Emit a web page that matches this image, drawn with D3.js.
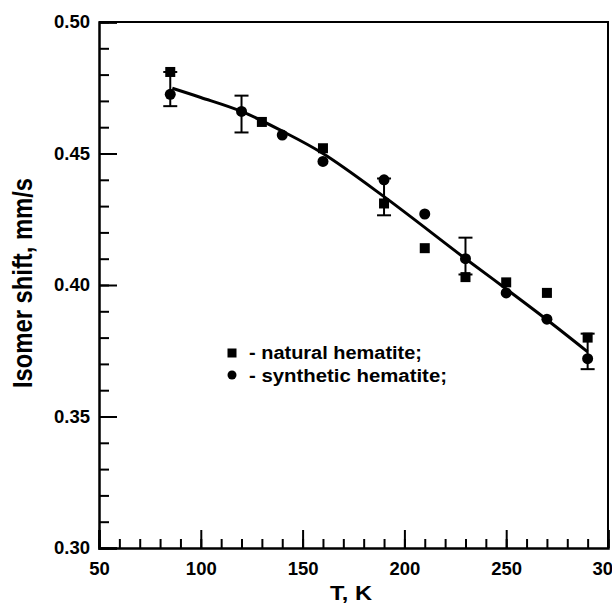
<!DOCTYPE html>
<html>
<head>
<meta charset="utf-8">
<script src="https://cdn.jsdelivr.net/npm/d3@7"></script>
<style>
  html, body { margin: 0; padding: 0; background: #fff; }
  svg { display: block; font-family: 'Liberation Sans', Arial, sans-serif; font-weight: bold; }
</style>
</head>
<body>
<div id="chart"></div>
<script>
// natural hematite (squares)
const naturalT = [85, 130, 160, 190, 210, 230, 250, 270, 290];
const naturalIS = [0.481, 0.462, 0.452, 0.431, 0.414, 0.403, 0.401, 0.397, 0.380];

// synthetic hematite (circles)
const syntheticT = [85, 120, 140, 160, 190, 210, 230, 250, 270, 290];
const syntheticIS = [0.4725, 0.466, 0.457, 0.447, 0.440, 0.427, 0.410, 0.397, 0.387, 0.372];

// error bars
const errT = [85, 120, 190, 230, 290];
const errLow = [0.468, 0.458, 0.4265, 0.404, 0.368];
const errHigh = [0.481, 0.472, 0.4405, 0.418, 0.3815];

// fitted curve
const fitT = [86, 100, 120, 140, 160, 190, 230, 250, 270, 290];
const fitIS = [0.4748, 0.4713, 0.4660, 0.4585, 0.4500, 0.4336, 0.4100, 0.3985, 0.3868, 0.3746];

const xMajor = [50, 100, 150, 200, 250, 300];
const xLabels = ['50', '100', '150', '200', '250', '30'];
const yMajor = [0.30, 0.35, 0.40, 0.45, 0.50];

const legendLabels = ['- natural hematite;', '- synthetic hematite;'];

const width = 612, height = 603;
const mLeft = 99, mRight = 608, mTop = 22, mBottom = 548;

const svg = d3.select('#chart')
  .append('svg')
    .attr('width', width)
    .attr('height', height);

const x = d3.scaleLinear().domain([50, 300]).range([mLeft, mRight]);
const y = d3.scaleLinear().domain([0.30, 0.50]).range([mBottom, mTop]);

// frame (top and right)
svg.append('path')
  .attr('d', `M${mLeft},${mTop}H${mRight}V${mBottom}`)
  .attr('fill', 'none')
  .attr('stroke', '#000')
  .attr('stroke-width', 2);

// minor ticks
svg.append('g')
  .attr('transform', `translate(${mLeft},0)`)
  .call(d3.axisLeft(y).tickValues(d3.range(30, 51).map(v => v / 100)).tickSize(-10).tickFormat(''))
  .call(g => g.select('.domain').remove())
  .call(g => g.selectAll('line').attr('stroke-width', 2));
svg.append('g')
  .attr('transform', `translate(0,${mBottom})`)
  .call(d3.axisBottom(x).tickValues(d3.range(50, 301, 10)).tickSize(-9).tickFormat(''))
  .call(g => g.select('.domain').remove())
  .call(g => g.selectAll('line').attr('stroke-width', 2));

// major ticks + labels
const yAxis = svg.append('g')
  .attr('transform', `translate(${mLeft},0)`)
  .call(d3.axisLeft(y).tickValues(yMajor).tickSize(-18).tickPadding(9).tickFormat(d3.format('.2f')));
const xAxis = svg.append('g')
  .attr('transform', `translate(0,${mBottom})`)
  .call(d3.axisBottom(x).tickValues(xMajor).tickSize(-18).tickPadding(14)
    .tickFormat((d, i) => xLabels[i]));

[xAxis, yAxis].forEach(g => {
  g.select('.domain').attr('stroke-width', 2.5);
  g.selectAll('line').attr('stroke-width', 2);
  g.selectAll('text')
    .attr('font-size', 18.5)
    .attr('font-family', "'Liberation Sans', Arial, sans-serif")
    .attr('font-weight', 'bold')
    .attr('fill', '#000');
});
// last label is cut by the page edge, as in the source
xAxis.selectAll('.tick:last-of-type text')
  .attr('text-anchor', 'start')
  .attr('dx', -16);

// axis titles
svg.append('text')
  .attr('x', 351)
  .attr('y', 600)
  .attr('text-anchor', 'middle')
  .attr('font-size', 20)
  .attr('textLength', 42)
  .attr('lengthAdjust', 'spacingAndGlyphs')
  .text('T, K');

svg.append('text')
  .attr('transform', 'translate(32,283) rotate(-90)')
  .attr('text-anchor', 'middle')
  .attr('font-size', 27)
  .attr('textLength', 210)
  .attr('lengthAdjust', 'spacingAndGlyphs')
  .text('Isomer shift, mm/s');

// fitted line
const fitData = fitT.map((t, i) => ({ t, v: fitIS[i] }));
svg.append('path')
  .datum(fitData)
  .attr('fill', 'none')
  .attr('stroke', '#000')
  .attr('stroke-width', 3)
  .attr('d', d3.line().curve(d3.curveCatmullRom.alpha(0.5)).x(d => x(d.t)).y(d => y(d.v)));

// error bars
const errData = errT.map((t, i) => ({ t, lo: errLow[i], hi: errHigh[i] }));
const eb = svg.append('g').attr('stroke', '#000').attr('stroke-width', 2);
eb.selectAll('line.v').data(errData).join('line')
  .attr('class', 'v')
  .attr('x1', d => x(d.t)).attr('x2', d => x(d.t))
  .attr('y1', d => y(d.lo)).attr('y2', d => y(d.hi));
eb.selectAll('line.lo').data(errData).join('line')
  .attr('class', 'lo')
  .attr('x1', d => x(d.t) - 7).attr('x2', d => x(d.t) + 7)
  .attr('y1', d => y(d.lo)).attr('y2', d => y(d.lo));
eb.selectAll('line.hi').data(errData).join('line')
  .attr('class', 'hi')
  .attr('x1', d => x(d.t) - 7).attr('x2', d => x(d.t) + 7)
  .attr('y1', d => y(d.hi)).attr('y2', d => y(d.hi));

// natural: squares
const sq = 10;
svg.append('g').selectAll('rect')
  .data(naturalT.map((t, i) => ({ t, v: naturalIS[i] })))
  .join('rect')
    .attr('x', d => x(d.t) - sq / 2)
    .attr('y', d => y(d.v) - sq / 2)
    .attr('width', sq)
    .attr('height', sq)
    .attr('fill', '#000');

// synthetic: circles
svg.append('g').selectAll('circle')
  .data(syntheticT.map((t, i) => ({ t, v: syntheticIS[i] })))
  .join('circle')
    .attr('cx', d => x(d.t))
    .attr('cy', d => y(d.v))
    .attr('r', 5.5)
    .attr('fill', '#000');

// legend
const legend = svg.append('g').attr('transform', 'translate(232,353)');
legend.append('rect').attr('x', -4.5).attr('y', -4.5).attr('width', 9).attr('height', 9).attr('fill', '#000');
legend.append('circle').attr('cx', 0).attr('cy', 22).attr('r', 4.5).attr('fill', '#000');
legend.selectAll('text')
  .data(legendLabels)
  .join('text')
    .attr('x', 17)
    .attr('y', (d, i) => 6 + i * 23)
    .attr('font-size', 18)
    .attr('textLength', (d, i) => [173, 198][i])
    .attr('lengthAdjust', 'spacingAndGlyphs')
    .text(d => d);
</script>
</body>
</html>
